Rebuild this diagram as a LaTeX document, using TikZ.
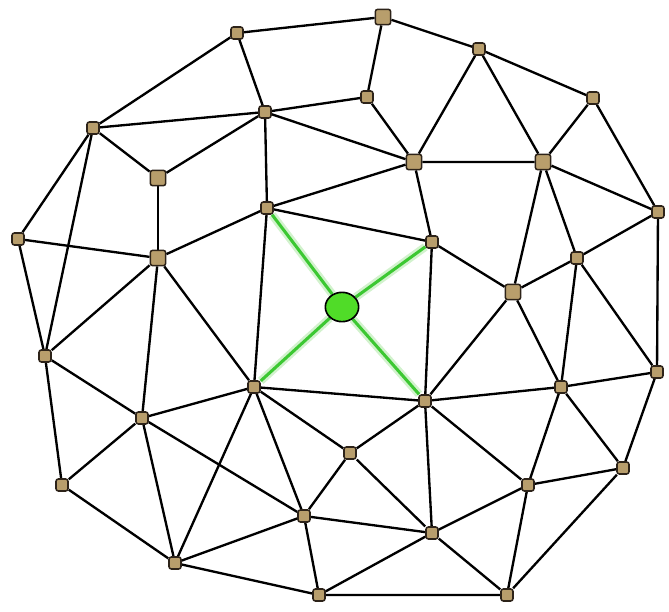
\documentclass[tikz,border=0pt]{standalone}
\usetikzlibrary{shapes.geometric,backgrounds}
\definecolor{vfill}{RGB}{184,158,108}
\definecolor{vline}{RGB}{45,35,25}
\definecolor{gline}{RGB}{60,200,50}
\definecolor{gfill}{RGB}{80,220,40}
\definecolor{ghalo}{RGB}{210,242,205}

\begin{document}
\begin{tikzpicture}[
  x=0.03cm, y=-0.03cm,
  vtx/.style={rectangle, rounded corners=2pt, draw=vline, line width=1.3pt, fill=vfill, inner sep=0pt, minimum size=3.6mm},
  vbig/.style={minimum size=4.6mm},
  hub/.style={ellipse, draw=black, line width=1.4pt, fill=gfill, inner sep=0pt, minimum width=10mm, minimum height=8.8mm},
  link/.style={line width=2pt, black},
  glink/.style={line width=2.6pt, gline},
  halo/.style={line width=7pt, ghalo},
]
\useasboundingbox (0,0) rectangle (669,611);

% === VERTICES ===
\node[vtx] (v1) at (237,33) {};
\node[vtx, vbig] (v2) at (383,17) {};
\node[vtx] (v3) at (479,49) {};
\node[vtx] (v4) at (593,98) {};
\node[vtx] (v5) at (93,128) {};
\node[vtx] (v6) at (265,112) {};
\node[vtx] (v7) at (367,97) {};
\node[vtx, vbig] (v8) at (158,178) {};
\node[vtx, vbig] (v9) at (414,162) {};
\node[vtx, vbig] (v10) at (543,162) {};
\node[vtx] (v11) at (267,208) {};
\node[vtx] (v12) at (18,239) {};
\node[vtx, vbig] (v13) at (158,258) {};
\node[vtx] (v14) at (432,242) {};
\node[vtx] (v15) at (658,212) {};
\node[vtx] (v16) at (577,258) {};
\node[vtx, vbig] (v17) at (513,292) {};
\node[vtx] (v18) at (45,356) {};
\node[vtx] (v19) at (254,387) {};
\node[vtx] (v20) at (425,401) {};
\node[vtx] (v21) at (657,372) {};
\node[vtx] (v22) at (561,387) {};
\node[vtx] (v23) at (142,418) {};
\node[vtx] (v24) at (350,453) {};
\node[vtx] (v25) at (623,468) {};
\node[vtx] (v26) at (62,485) {};
\node[vtx] (v27) at (528,485) {};
\node[vtx] (v28) at (304,516) {};
\node[vtx] (v29) at (432,533) {};
\node[vtx] (v30) at (175,563) {};
\node[vtx] (v31) at (319,595) {};
\node[vtx] (v32) at (507,595) {};
\node[hub] (c) at (342,307) {};

\begin{scope}[on background layer]
% === OUTER RING ===
\draw[link] (v1) -- (v2) -- (v3) -- (v4) -- (v15) -- (v21) -- (v25) -- (v32) -- (v31) -- (v30) -- (v26) -- (v18) -- (v12) -- (v5) -- (v1);

% === INNER EDGES ===
\draw[link] (v1) -- (v6);
\draw[link] (v2) -- (v7);
\draw[link] (v3) -- (v9) (v3) -- (v10);
\draw[link] (v4) -- (v10);
\draw[link] (v5) -- (v6) (v5) -- (v8) (v5) -- (v18);
\draw[link] (v6) -- (v7) (v6) -- (v9) (v6) -- (v8) (v6) -- (v11);
\draw[link] (v7) -- (v9);
\draw[link] (v8) -- (v13);
\draw[link] (v9) -- (v10) (v9) -- (v14) (v9) -- (v11);
\draw[link] (v10) -- (v15) (v10) -- (v16) (v10) -- (v17);
\draw[link] (v11) -- (v13) (v11) -- (v14) (v11) -- (v19);
\draw[link] (v12) -- (v13);
\draw[link] (v13) -- (v18) (v13) -- (v23) (v13) -- (v19);
\draw[link] (v14) -- (v17) (v14) -- (v20);
\draw[link] (v15) -- (v16);
\draw[link] (v16) -- (v17) (v16) -- (v22) (v16) -- (v21);
\draw[link] (v17) -- (v20) (v17) -- (v22);
\draw[link] (v18) -- (v23);
\draw[link] (v19) -- (v23) (v19) -- (v30) (v19) -- (v28) (v19) -- (v24) (v19) -- (v20);
\draw[link] (v20) -- (v24) (v20) -- (v29) (v20) -- (v27) (v20) -- (v22);
\draw[link] (v21) -- (v22);
\draw[link] (v22) -- (v27) (v22) -- (v25);
\draw[link] (v23) -- (v26) (v23) -- (v30) (v23) -- (v28);
\draw[link] (v24) -- (v28) (v24) -- (v29);
\draw[link] (v25) -- (v27);
\draw[link] (v27) -- (v29) (v27) -- (v32);
\draw[link] (v28) -- (v30) (v28) -- (v31) (v28) -- (v29);
\draw[link] (v29) -- (v31) (v29) -- (v32);

% === GREEN SPOKES ===
\draw[halo] (c) -- (v11) (c) -- (v14) (c) -- (v19) (c) -- (v20);
\draw[glink] (c) -- (v11) (c) -- (v14) (c) -- (v19) (c) -- (v20);
\end{scope}
\end{tikzpicture}
\end{document}
